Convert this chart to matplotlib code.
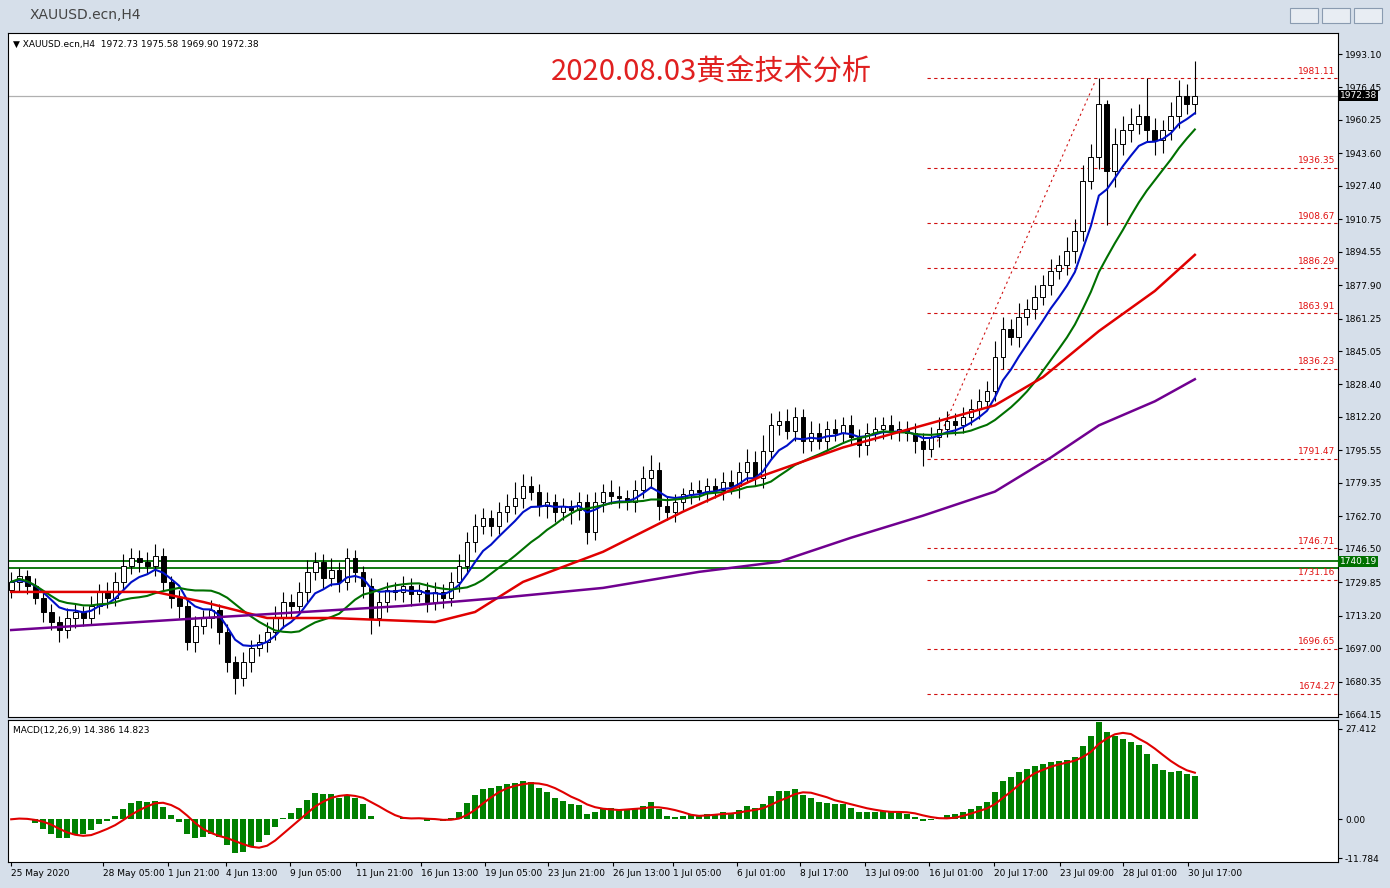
import matplotlib
matplotlib.use("Agg")
import matplotlib.pyplot as plt
import numpy as np
import pandas as pd
from matplotlib.patches import Rectangle

plt.rcParams['font.family'] = ['DejaVu Sans', 'Noto Sans CJK SC']

closes = [1730,1733,1728,1722,1715,1710,1706,1712,
          1715,1712,1718,1725,1722,1730,1738,1742,
          1740,1738,1743,1730,1722,1718,1700,1708,
          1712,1716,1705,1690,1682,1690,1697,1700,
          1705,1712,1720,1718,1725,1735,1740,1732,
          1736,1730,1742,1735,1728,1712,1720,1726,
          1725,1728,1724,1726,1720,1725,1722,1730,
          1738,1750,1758,1762,1758,1765,1768,1772,
          1778,1775,1768,1770,1765,1768,1766,1770,
          1755,1770,1775,1773,1772,1770,1776,1782,
          1786,1768,1765,1770,1774,1776,1775,1778,
          1776,1780,1778,1785,1790,1782,1795,1808,
          1810,1805,1812,1800,1804,1800,1806,1804,
          1808,1802,1798,1804,1806,1808,1805,1806,
          1804,1800,1796,1802,1806,1810,1808,1812,
          1816,1820,1825,1842,1856,1852,1862,1866,
          1872,1878,1885,1888,1895,1905,1930,1942,
          1968,1935,1948,1955,1958,1962,1955,1950,
          1955,1962,1972,1968,1972.38]
wick_up = [5,4,3,4,3,4,3,5, 4,3,5,4,5,5,6,5, 4,5,6,4,3,4,3,5,
           4,5,3,4,3,5,4,4, 5,6,5,4,5,6,5,4, 6,4,5,4,3,4,5,4,
           4,5,4,3,4,5,4,5, 6,5,6,5,4,5,6,8, 6,5,4,5,4,4,3,5,
           4,5,4,6,5,4,5,6, 7,4,5,4,3,4,5,4, 4,5,6,5,6,5,8,6,
           5,6,5,4,6,5,4,5, 4,5,4,5,6,4,5,4, 4,5,4,5,6,5,4,5,
           5,6,5,8,6,5,7,5, 6,5,6,5,7,6,8,6, 13,2,8,7,8,6,19,6,
           5,7,8,6,17]
wick_dn = [4,5,4,3,5,4,6,4, 5,4,3,4,5,4,5,4, 5,4,5,4,5,6,4,5,
           4,5,6,5,8,4,5,4, 5,4,5,6,4,5,4,5, 4,5,4,5,6,8,4,5,
           4,5,6,4,5,4,5,4, 5,4,5,4,5,4,5,4, 5,4,5,6,5,4,7,5,
           6,4,5,4,5,4,5,4, 5,7,4,5,4,5,4,5, 4,5,4,6,5,4,5,4,
           5,4,5,6,5,4,5,4, 5,4,6,5,4,5,4,5, 4,6,8,4,5,4,5,4,
           4,5,4,5,6,4,5,4, 5,4,5,4,5,6,5,4, 6,27,8,5,6,5,6,7,
           6,5,6,5,5]

red_idx = [0,11,18,24,32,40,53,58,64,74,84,94,104,114,123,129,136,143,148]
red_val = [1725,1725,1725,1720,1712,1712,1710,1715,1730,1745,1765,1783,1797,1808,1818,1832,1855,1875,1893]
pur_idx = [0,24,49,61,74,86,96,105,114,123,130,136,143,148]
pur_val = [1706,1712,1718,1722,1727,1735,1740,1752,1763,1775,1792,1808,1820,1831]

fib_levels = [1981.11,1936.35,1908.67,1886.29,1863.91,1836.23,1791.47,1746.71,1731.16,1696.65,1674.27]
green_levels = [1740.19, 1736.71]
yticks = [1993.10,1976.45,1960.25,1943.60,1927.40,1910.75,1894.55,1877.90,1861.25,1845.05,
          1828.40,1812.20,1795.55,1779.35,1762.70,1746.50,1729.85,1713.20,1697.00,1680.35,1664.15]
xlabels = ["25 May 2020","28 May 05:00","1 Jun 21:00","4 Jun 13:00","9 Jun 05:00","11 Jun 21:00",
           "16 Jun 13:00","19 Jun 05:00","23 Jun 21:00","26 Jun 13:00","1 Jul 05:00","6 Jul 01:00",
           "8 Jul 17:00","13 Jul 09:00","16 Jul 01:00","20 Jul 17:00","23 Jul 09:00","28 Jul 01:00",
           "30 Jul 17:00"]
xlabel_pos = [0,11.5,19.6,26.8,34.9,43.1,51.3,59.3,67.1,75.2,82.7,90.8,98.6,106.8,114.8,122.9,131.1,139,147.1]

W, H = 1390, 888
fig = plt.figure(figsize=(W/100, H/100), dpi=100)
fig.patch.set_facecolor('#d6dfea')

def px(x, y, w, h):
    return [x/W, 1-(y+h)/H, w/W, h/H]

fig.text(30/W, 1-15/H, "XAUUSD.ecn,H4", fontsize=10, color='#444444', va='center')
for bx in [1290, 1322, 1354]:
    fig.patches.append(Rectangle((bx/W, 1-23/H), 28/W, 15/H, transform=fig.transFigure,
                                 facecolor='#e8edf3', edgecolor='#8a9bb0', lw=0.8))

c = np.array(closes, dtype=float)
n = len(c)
o = np.concatenate([[1726.0], c[:-1]])
hi = np.maximum(o, c) + np.array(wick_up)
lo = np.minimum(o, c) - np.array(wick_dn)
idx = np.arange(n)

def pr(y):
    return 1993.1 - (y - 54) * 0.4984

ax = fig.add_axes(px(8, 33, 1330, 684))
ax.set_facecolor('white')
ax.set_xlim(-0.4, 165.9)
ax.set_ylim(pr(717), pr(33))
for lv in green_levels:
    ax.axhline(lv, color='#007000', lw=1.3, zorder=1)
ax.axhline(1972.38, color='#b0b0b0', lw=0.9, zorder=1)
for lv in fib_levels:
    ax.plot([114.5, 166], [lv, lv], color='#d01010', lw=0.8, ls=(0, (3, 3)), zorder=1)
    ax.text(165.6, lv + 1.2, f"{lv:.2f}", color='#e01010', fontsize=6.5, ha='right', va='bottom')
ax.plot([115.8, 135.6], [1800, 1980], color='#d01010', lw=0.8, ls=(0, (2, 3)), zorder=1)

for i in range(n):
    ax.vlines(i, lo[i], hi[i], color='black', lw=0.8, zorder=3)
    b0, b1 = min(o[i], c[i]), max(o[i], c[i])
    fc = 'white' if c[i] >= o[i] else 'black'
    ax.add_patch(Rectangle((i - 0.3, b0), 0.6, max(b1 - b0, 0.4), facecolor=fc,
                           edgecolor='black', lw=0.7, zorder=4))

s = pd.Series(c)
blue = s.ewm(span=7, adjust=False).mean()
green = s.rolling(15, min_periods=1).mean()
ax.plot(idx, blue, color='#0010c8', lw=1.5, zorder=5)
ax.plot(idx, green, color='#007000', lw=1.5, zorder=5)
ax.plot(red_idx, red_val, color='#e00000', lw=1.8, zorder=5)
ax.plot(pur_idx, pur_val, color='#700090', lw=1.8, zorder=5)

ax.yaxis.tick_right()
ax.set_yticks(yticks)
ax.set_yticklabels([f"{t:.2f}" for t in yticks], fontsize=6.5)
ax.tick_params(axis='y', length=3, pad=2)
ax.set_xticks([])
ax.text(0.004, 0.99, "▼ XAUUSD.ecn,H4  1972.73 1975.58 1969.90 1972.38", transform=ax.transAxes,
        fontsize=6.5, va='top')
ax.text(0.529, 0.965, "2020.08.03黄金技术分析", transform=ax.transAxes, color='#e02020',
        fontsize=21, ha='center', va='top', family=['Noto Sans CJK SC', 'DejaVu Sans'])
ax.text(166.1, 1972.38, "1972.38", color='white', fontsize=6.5, va='center', ha='left',
        bbox=dict(facecolor='black', edgecolor='none', pad=1), clip_on=False)
ax.text(166.1, 1740.19, "1740.19", color='white', fontsize=6.5, va='center', ha='left',
        bbox=dict(facecolor='#007000', edgecolor='none', pad=1), clip_on=False)
for sp in ax.spines.values():
    sp.set_linewidth(0.8)

ema_f = s.ewm(span=6, adjust=False).mean()
ema_s = s.ewm(span=13, adjust=False).mean()
macd = ema_f - ema_s
sig = macd.rolling(5, min_periods=1).mean()
ax2 = fig.add_axes(px(8, 720, 1330, 142))
ax2.set_xlim(-0.4, 165.9)
ax2.set_ylim(-12.95, 30.1)
ax2.bar(idx, macd, width=0.7, color='#008000', zorder=2)
ax2.plot(idx, sig, color='#e00000', lw=1.5, zorder=3)
ax2.yaxis.tick_right()
ax2.set_yticks([27.412, 0, -11.784])
ax2.set_yticklabels(["27.412", "0.00", "-11.784"], fontsize=6.5)
ax2.tick_params(axis='y', length=3, pad=2)
ax2.set_xticks(xlabel_pos)
ax2.set_xticklabels(xlabels, fontsize=6.5, ha='left')
ax2.tick_params(axis='x', length=3, pad=2)
ax2.text(0.004, 0.96, "MACD(12,26,9) 14.386 14.823", transform=ax2.transAxes, fontsize=6.5, va='top')
for sp in ax2.spines.values():
    sp.set_linewidth(0.8)

fig.savefig("out.png", dpi=100, facecolor=fig.get_facecolor())
